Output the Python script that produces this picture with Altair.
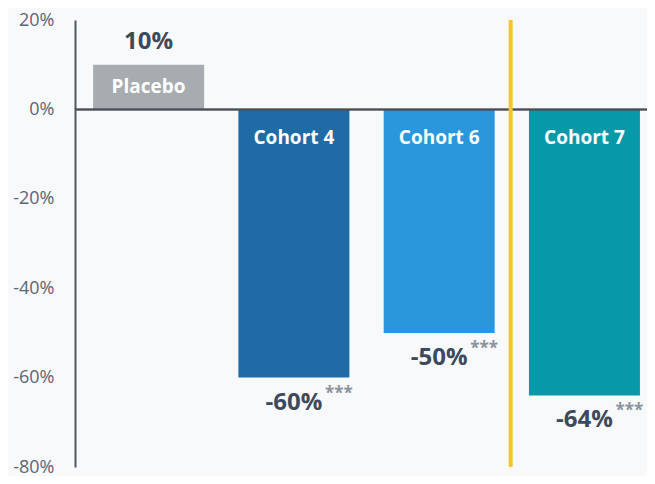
import altair as alt
import pandas as pd

categories = ["Placebo", "Cohort 4", "Cohort 6", "Cohort 7"]
values = [0.10, -0.60, -0.50, -0.64]
value_labels = ["10%", "-60%", "-50%", "-64%"]
stars = ["", "***", "***", "***"]
colors = ["#a7acb1", "#1f6ba5", "#2a97dc", "#0899a9"]
y_ticks = [0.2, 0, -0.2, -0.4, -0.6, -0.8]

df = pd.DataFrame({"cat": categories, "value": values,
                   "vlabel": value_labels, "stars": stars})

W, H = 572, 447
FONT = "Open Sans"
DARK = "#3e4a5c"

xscale = alt.Scale(domain=categories, paddingInner=0.236, paddingOuter=0.0866, align=0.72)
x = alt.X("cat:N", sort=categories, axis=None, scale=xscale)
y = alt.Y("value:Q",
          scale=alt.Scale(domain=[-0.8, 0.2], nice=False, zero=False),
          axis=alt.Axis(values=y_ticks, labelExpr="round(datum.value*100) + '%'",
                        domain=True, domainColor="#4d5866", domainWidth=2,
                        ticks=False, grid=False, labelFontSize=18, labelFont=FONT,
                        labelColor="#5b6573", labelPadding=21, title=None))

base = alt.Chart(df)

bars = base.mark_bar().encode(
    x=x, y=y, y2=alt.datum(0),
    color=alt.Color("cat:N", scale=alt.Scale(domain=categories, range=colors), legend=None),
)

zero_rule = base.mark_rule(color="#4a4f57", strokeWidth=1.5).encode(
    y=alt.datum(0), x=alt.value(0), x2=alt.value(W)
)

sep = base.transform_filter(alt.datum.cat == "Cohort 6").mark_rule(
    color="#f5c52a", strokeWidth=4, xOffset=16
).encode(
    x=alt.X("cat:N", sort=categories, axis=None, scale=xscale, bandPosition=1),
    y=alt.datum(0.2), y2=alt.datum(-0.8)
)

pos_val = base.transform_filter(alt.datum.value > 0).mark_text(
    font=FONT, fontSize=24, fontWeight="bold", color=DARK, baseline="middle", dy=-23
).encode(x=x, y=y, text="vlabel:N")

neg_val = base.transform_filter(alt.datum.value < 0).mark_text(
    font=FONT, fontSize=24, fontWeight="bold", color=DARK, baseline="middle", dy=25
).encode(x=x, y=y, text="vlabel:N")

star_txt = base.transform_filter(alt.datum.value < 0).mark_text(
    font=FONT, fontSize=17, fontWeight="bold", color="#8a929c", baseline="middle",
    align="left", dx=31, dy=16
).encode(x=x, y=y, text="stars:N")

pos_cat = base.transform_filter(alt.datum.value > 0).transform_calculate(
    mid="datum.value / 2"
).mark_text(
    font=FONT, fontSize=19, fontWeight="bold", color="white", baseline="middle"
).encode(x=x, y=alt.Y("mid:Q"), text="cat:N")

neg_cat = base.transform_filter(alt.datum.value < 0).mark_text(
    font=FONT, fontSize=19, fontWeight="bold", color="white", baseline="middle", dy=29
).encode(x=x, y=alt.datum(0), text="cat:N")

chart = alt.layer(bars, zero_rule, sep, pos_val, neg_val, star_txt, pos_cat, neg_cat).properties(
    width=W, height=H,
    autosize=alt.AutoSizeParams(type="none"),
    padding={"left": 67, "top": 12, "right": 0, "bottom": 9},
    background="#f8f9fb",
).configure_view(stroke=None)

chart.save("out.html", embed_options={"renderer": "svg", "actions": False})
